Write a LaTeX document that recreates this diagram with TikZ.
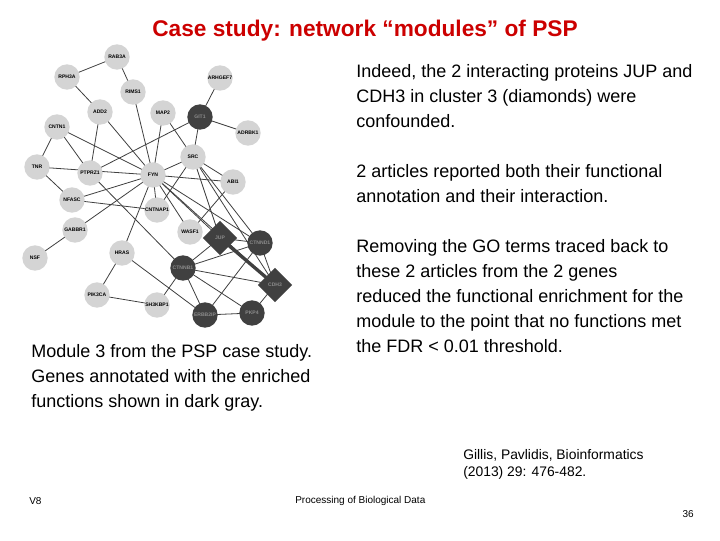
\documentclass[tikz,border=0pt]{standalone}
\usepackage{fontspec}
\setmainfont{Liberation Sans}
\usetikzlibrary{shapes.geometric}
\pgfdeclarelayer{bg}
\pgfsetlayers{bg,main}
\begin{document}
\begin{tikzpicture}[x=0.75pt,y=-0.75pt,
 lt/.style={circle,fill=black!17,minimum size=19pt,inner sep=0pt,font=\fontsize{3.8}{4}\selectfont\bfseries},
 dk/.style={circle,fill=black!75,minimum size=19pt,inner sep=0pt,font=\fontsize{3.8}{4}\selectfont\bfseries,text=black!45},
 dm/.style={diamond,fill=black!75,minimum size=26pt,inner sep=0pt,font=\fontsize{3.8}{4}\selectfont\bfseries,text=black!45},
 ed/.style={draw=black!75,line width=0.6pt},
 body/.style={anchor=north west,align=left,font=\fontsize{13.5}{18.75}\selectfont,inner sep=0pt}]
\useasboundingbox (0,0) rectangle (720,540);
\node[font=\fontsize{17}{20}\selectfont\bfseries,text={rgb,255:red,204;green,0;blue,0}] (title) at (365,31) {Case study: network “modules” of PSP};
\foreach \n/\x/\y/\s in {RAB3A/117/57/lt,RPH3A/67/77/lt,ARHGEF7/220/78/lt,RIMS1/133/92/lt,ADD2/100/112/lt,MAP2/163/113/lt,GIT1/200/117/dk,CNTN1/57/127/lt,ADRBK1/248/133/lt,SRC/193/157/lt,TNR/37/167/lt,PTPRZ1/90/173/lt,FYN/153/175/lt,ABI1/233/182/lt,NFASC/72/200/lt,CNTNAP1/157/210/lt,WASF1/190/232/lt,GABBR1/75/230/lt,CTNND1/260/243/dk,NSF/35/258/lt,HRAS/122/253/lt,CTNNB1/183/268/dk,PIK3CA/97/295/lt,SH3KBP1/157/305/lt,ERBB2IP/205/315/dk,PKP4/252/313/dk}
  \node[\s] (\n) at (\x,\y) {\n};
\node[dm] (JUP) at (220,238) {JUP};
\node[dm] (CDH3) at (275,285) {CDH3};
\begin{pgfonlayer}{bg}
\fill[white] (0,0) rectangle (720,540);
\foreach \a/\b in {RAB3A/RPH3A,RAB3A/RIMS1,RPH3A/ADD2,RIMS1/FYN,ADD2/PTPRZ1,ADD2/FYN,MAP2/FYN,MAP2/SRC,ARHGEF7/GIT1,GIT1/ADRBK1,GIT1/SRC,GIT1/PTPRZ1,CNTN1/TNR,CNTN1/PTPRZ1,CNTN1/FYN,TNR/FYN,TNR/NFASC,SRC/FYN,SRC/ABI1,SRC/CNTNAP1,SRC/JUP,SRC/CTNND1,SRC/CDH3,FYN/ABI1,FYN/NFASC,FYN/CNTNAP1,FYN/WASF1,FYN/GABBR1,FYN/HRAS,FYN/JUP,FYN/CTNND1,FYN/CDH3,PTPRZ1/CTNNB1,NFASC/CNTNAP1,GABBR1/NSF,ABI1/WASF1,HRAS/PIK3CA,HRAS/ERBB2IP,PIK3CA/SH3KBP1,SH3KBP1/CTNNB1,JUP/CTNNB1,JUP/CTNND1,CTNND1/CTNNB1,CTNND1/CDH3,CTNND1/ERBB2IP,CTNNB1/CDH3,CTNNB1/ERBB2IP,CTNNB1/PKP4,ERBB2IP/PKP4,PKP4/CDH3}
  \draw[ed] (\a.center) -- (\b.center);
\draw[ed,line width=2.5pt] (JUP.center) -- (CDH3.center);
\end{pgfonlayer}
\node[body] (t1) at (356,64) {Indeed, the 2 interacting proteins JUP and\\CDH3 in cluster 3 (diamonds) were\\confounded.};
\node[body] (t2) at (356,164) {2 articles reported both their functional\\annotation and their interaction.};
\node[body] (t3) at (356,239) {Removing the GO terms traced back to\\these 2 articles from the 2 genes\\reduced the functional enrichment for the\\module to the point that no functions met\\the FDR < 0.01 threshold.};
\node[body] (cap) at (31,344) {Module 3 from the PSP case study.\\Genes annotated with the enriched\\functions shown in dark gray.};
\node[anchor=north west,align=left,font=\fontsize{10.4}{13}\selectfont,inner sep=0pt] (ref) at (463,449) {Gillis, Pavlidis, Bioinformatics\\(2013) 29: 476-482.};
\node[anchor=west,font=\fontsize{7.5}{8}\selectfont,inner sep=0pt] (v8) at (29,501) {V8};
\node[anchor=west,font=\fontsize{7.5}{8}\selectfont,inner sep=0pt] (pbd) at (295,501) {Processing of Biological Data};
\node[anchor=east,font=\fontsize{7.5}{8}\selectfont,inner sep=0pt] (pg) at (694,514) {36};
\end{tikzpicture}
\end{document}
